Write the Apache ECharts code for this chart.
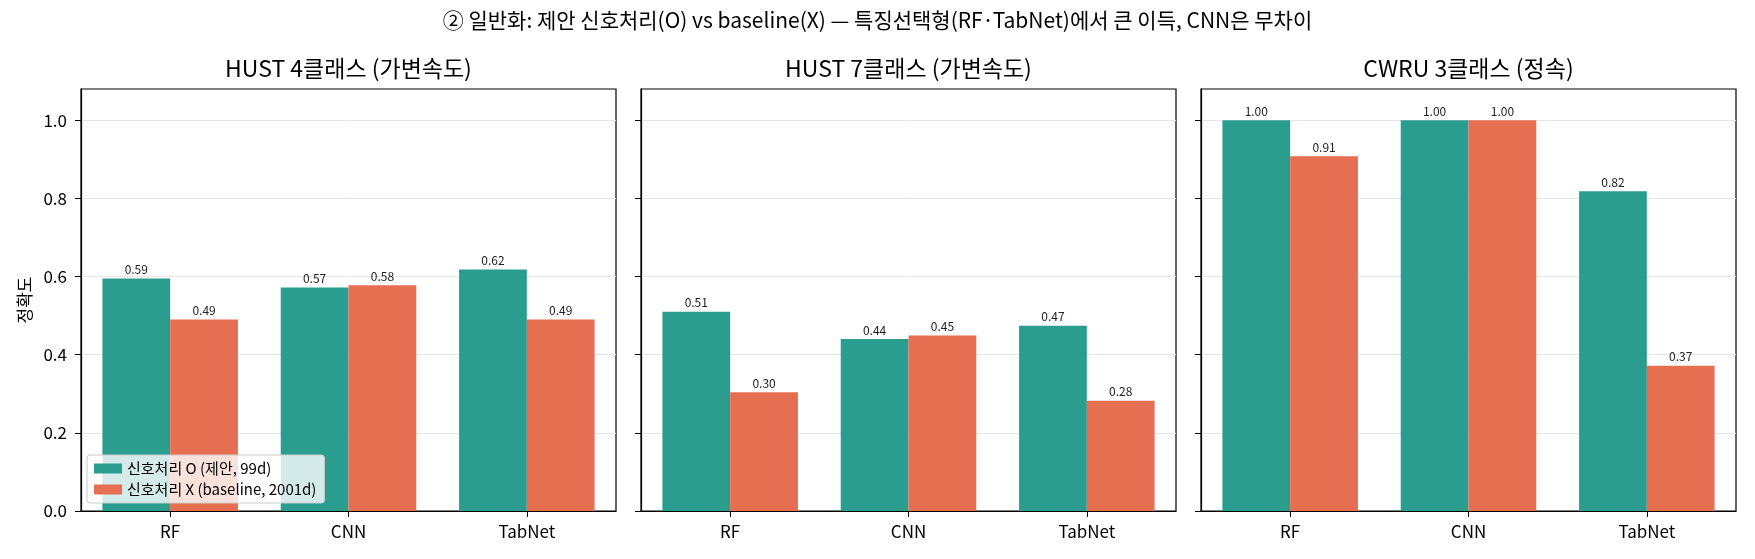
<!DOCTYPE html>
<html>
<head>
<meta charset="utf-8">
<script src="https://cdn.jsdelivr.net/npm/echarts@6/dist/echarts.min.js"></script>
<style>
  html, body { margin: 0; padding: 0; background: #fff; }
  #chart { width: 1755px; height: 559px; }
</style>
</head>
<body>
<div id="chart"></div>
<script>
// data
const models = ['RF', 'CNN', 'TabNet'];
const panelTitles = ['HUST 4클래스 (가변속도)', 'HUST 7클래스 (가변속도)', 'CWRU 3클래스 (정속)'];
const seriesNames = ['신호처리 O (제안, 99d)', '신호처리 X (baseline, 2001d)'];
const withProc = [
  [0.595, 0.572, 0.618],
  [0.510, 0.440, 0.474],
  [1.000, 1.000, 0.818]
];
const withoutProc = [
  [0.490, 0.578, 0.490],
  [0.304, 0.449, 0.282],
  [0.908, 1.000, 0.372]
];
const yTicks = [0, 0.2, 0.4, 0.6, 0.8, 1.0];

const colors = ['#2a9d8f', '#e76f51'];
const font = '"Noto Sans CJK KR", "Noto Sans", sans-serif';

const chart = echarts.init(document.getElementById('chart'));

// panel placement (px)
const panelLeft = [81, 641, 1201];
const panelWidth = 535;
const gridTop = 89, gridBottom = 48;

const grids = panelLeft.map(l => ({
  left: l, width: panelWidth, top: gridTop, bottom: gridBottom,
  show: true, borderColor: '#000', borderWidth: 1.2, backgroundColor: 'transparent'
}));

const xAxes = panelLeft.map((l, i) => ({
  type: 'category', gridIndex: i, data: models,
  axisLine: { show: true, lineStyle: { color: '#000', width: 1.2 } },
  axisTick: { show: true, alignWithLabel: true, length: 6, lineStyle: { color: '#000' } },
  axisLabel: { color: '#000', fontSize: 17, fontFamily: font, margin: 12 }
}));

const yAxes = panelLeft.map((l, i) => ({
  type: 'value', gridIndex: i, min: 0, max: 1.08, interval: 0.2,
  name: i === 0 ? '정확도' : '',
  nameLocation: 'middle', nameRotate: 90, nameGap: 48,
  nameTextStyle: { color: '#000', fontSize: 17, fontFamily: font },
  axisLine: { show: true, lineStyle: { color: '#000', width: 1.2 } },
  axisTick: { show: true, length: 6, lineStyle: { color: '#000' }, customValues: yTicks },
  axisLabel: {
    show: i === 0, color: '#000', fontSize: 17, fontFamily: font, margin: 14,
    customValues: yTicks,
    formatter: v => v.toFixed(1)
  },
  splitLine: { show: true, lineStyle: { color: '#e6e6e6', width: 1 } }
}));

const series = [];
for (let i = 0; i < 3; i++) {
  [withProc[i], withoutProc[i]].forEach((vals, k) => {
    series.push({
      name: seriesNames[k], type: 'bar', xAxisIndex: i, yAxisIndex: i,
      data: vals, barWidth: '38%', barGap: '0%',
      itemStyle: { color: colors[k] },
      label: {
        show: true, position: 'top', distance: 3,
        fontSize: 12, fontFamily: font, color: '#222',
        formatter: p => p.value.toFixed(2)
      }
    });
  });
}

const titles = [{
  text: '② 일반화: 제안 신호처리(O) vs baseline(X) — 특징선택형(RF·TabNet)에서 큰 이득, CNN은 무차이',
  left: 'center', top: 10, padding: 0,
  textStyle: { fontSize: 21, fontWeight: 'normal', color: '#000', fontFamily: font }
}].concat(panelTitles.map((t, i) => ({
  text: t, left: panelLeft[i] + panelWidth / 2, textAlign: 'center', top: 57, padding: 0,
  textStyle: { fontSize: 23, fontWeight: 'normal', color: '#000', fontFamily: font }
})));

chart.setOption({
  animation: false,
  title: titles,
  grid: grids,
  xAxis: xAxes,
  yAxis: yAxes,
  legend: {
    data: seriesNames, orient: 'vertical', left: 87, top: 455,
    icon: 'rect', itemWidth: 28, itemHeight: 10, itemGap: 6,
    backgroundColor: 'rgba(255,255,255,0.8)', borderColor: '#cccccc', borderWidth: 1,
    borderRadius: 3, padding: [6, 8, 6, 7],
    textStyle: { fontSize: 15, fontFamily: font, color: '#000', lineHeight: 15 }
  },
  series: series
});
</script>
</body>
</html>
